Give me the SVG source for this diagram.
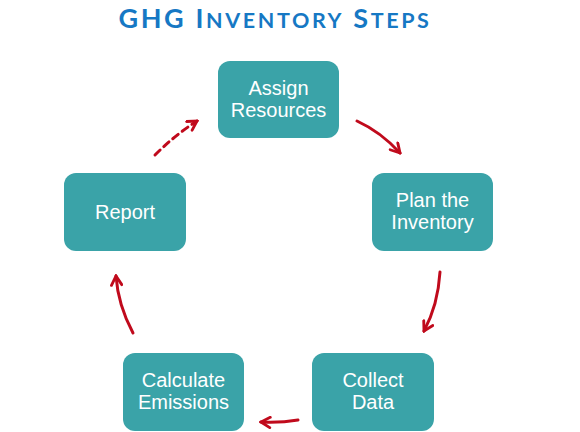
<svg xmlns="http://www.w3.org/2000/svg" width="580" height="432" viewBox="0 0 580 432">
<defs>
<style>
.box{fill:#3aa3a8;}
.lbl{font-family:"Liberation Sans",Arial,sans-serif;font-size:20px;fill:#ffffff;text-anchor:middle;}
.arr{fill:none;stroke:#c00a1c;stroke-width:3;stroke-linecap:round;marker-end:url(#ah);}
.title{font-family:Lato,"Open Sans",sans-serif;font-weight:bold;fill:#1678c4;}
</style>
<marker id="ah" viewBox="0 0 10 10" refX="8.5" refY="5" markerWidth="4.3" markerHeight="4.3" orient="auto">
<path d="M1.5,1 L8.5,5 L1.5,9" fill="none" stroke="#c00a1c" stroke-width="2.2" stroke-linecap="round" stroke-linejoin="miter"/>
</marker>
</defs>
<rect width="580" height="432" fill="#ffffff"/>
<text class="title" x="275" y="28" font-size="27" text-anchor="middle" letter-spacing="2.6">GHG I<tspan font-size="21.5">NVENTORY</tspan> S<tspan font-size="21.5">TEPS</tspan></text>
<g id="connectors">
<path class="arr" d="M357,121 Q381,132 400,153"/>
<path class="arr" d="M440,272 Q438,305 424,331"/>
<path class="arr" d="M298,420 Q280,423 261,422"/>
<path class="arr" d="M133,333 Q118,305 116,276"/>
<path class="arr" d="M155,155 Q175,135 197,121" stroke-dasharray="7,5"/>
</g>
<g id="assign">
<rect class="box" x="218" y="61" width="121" height="77" rx="12"/>
<text class="lbl" x="278.5" y="95">Assign</text>
<text class="lbl" x="278.5" y="117">Resources</text>
</g>
<g id="plan">
<rect class="box" x="372" y="173" width="121" height="78" rx="12"/>
<text class="lbl" x="432.5" y="207">Plan the</text>
<text class="lbl" x="432.5" y="229">Inventory</text>
</g>
<g id="collect">
<rect class="box" x="312" y="353" width="122" height="78" rx="12"/>
<text class="lbl" x="373" y="387">Collect</text>
<text class="lbl" x="373" y="409">Data</text>
</g>
<g id="calculate">
<rect class="box" x="123" y="353" width="121" height="78" rx="12"/>
<text class="lbl" x="183.5" y="387">Calculate</text>
<text class="lbl" x="183.5" y="409">Emissions</text>
</g>
<g id="report">
<rect class="box" x="64" y="173" width="122" height="78" rx="12"/>
<text class="lbl" x="125" y="219">Report</text>
</g>
</svg>
